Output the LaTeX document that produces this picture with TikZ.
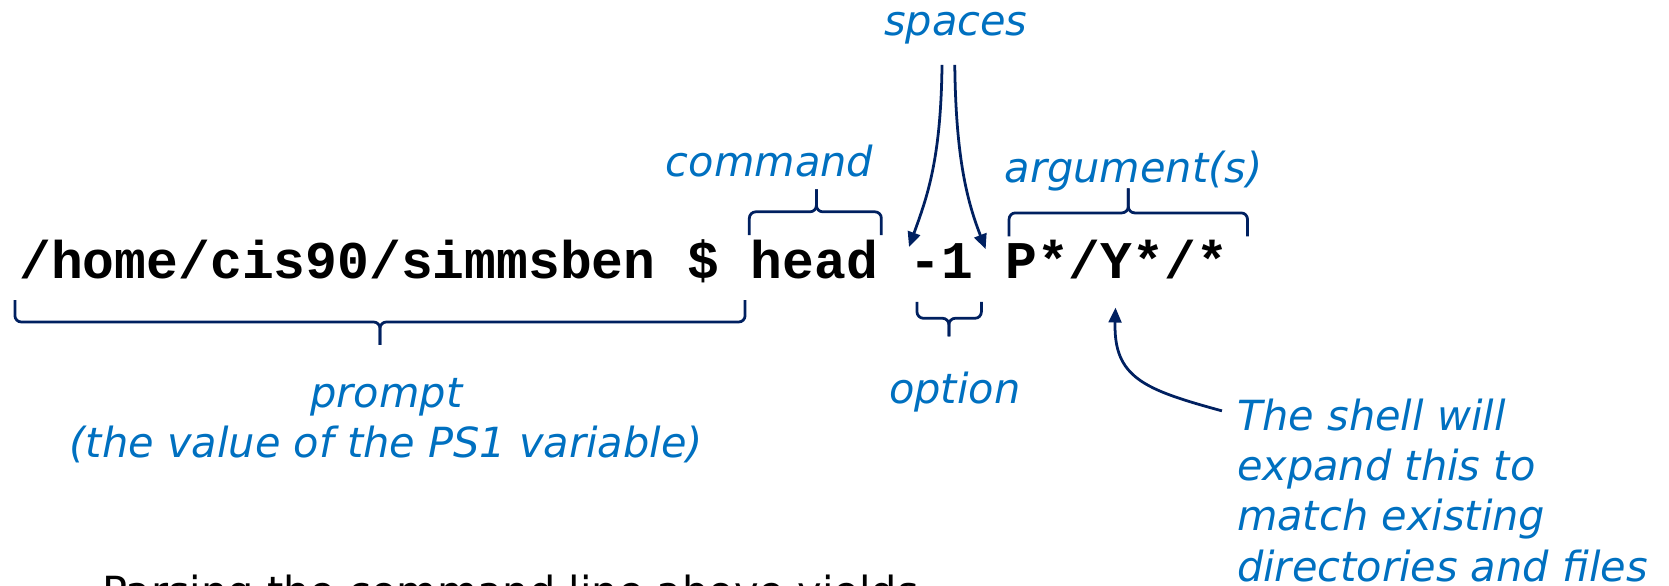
\documentclass[tikz,border=0pt]{standalone}
\usepackage{fontspec}
\setmainfont{DejaVu Sans}
\newfontfamily\cmdfont{Liberation Mono}
\usetikzlibrary{arrows.meta}
\definecolor{lblue}{HTML}{0070C0}
\definecolor{navy}{HTML}{002060}
\tikzset{
  lbl/.style={text=lblue, font=\fontsize{39}{47}\selectfont\itshape, inner sep=0pt},
  cmd/.style={font=\cmdfont\bfseries\fontsize{49.8}{60}\selectfont, inner sep=0pt, anchor=base west},
  brk/.style={draw=navy, line width=2.6pt, rounded corners=6pt},
  arr/.style={draw=navy, line width=2.6pt, -{Triangle[length=14pt,width=12pt]}},
}
\begin{document}
\begin{tikzpicture}[x=1pt,y=-1pt]
\useasboundingbox (0,0) rectangle (1568,550);
% command line
\node[cmd] (pr) at (18,262) {/home/cis90/simmsben \$};
\node[cmd] (hd) at (705.2,262) {head};
\node[cmd] (op) at (854.6,262) {-1};
\node[cmd] (ar) at (944.3,262) {P*/Y*/*};
% labels
\node[lbl, anchor=base] (sp) at (898,33) {spaces};
\node[lbl, anchor=base] (cm) at (723,166) {command};
\node[lbl, anchor=base] (ag) at (1065,171) {argument(s)};
\node[lbl, anchor=base] (on) at (897,379) {option};
\node[lbl, anchor=base, align=center] (pl) at (363,430) {prompt\\(the value of the PS1 variable)};
\node[lbl, anchor=north west, align=left] (sh) at (1162,375) {The shell will\\expand this to\\match existing\\directories and files};
\node[inner sep=0pt, anchor=base west, font=\fontsize{39}{47}\selectfont] (ps) at (96,570) {Parsing the command line above yields};
% brackets
\draw[brk] (14,282) -- (14,302.5) -- (357,302.5) -- (357,324);
\draw[brk] (700,282) -- (700,302.5) -- (357,302.5) -- (357,324);
\draw[brk] (704,221) -- (704,199) -- (767,199) -- (767,178);
\draw[brk] (828,221) -- (828,199) -- (767,199) -- (767,178);
\draw[brk] (948,222) -- (948,200) -- (1060,200) -- (1060,177);
\draw[brk] (1172,222) -- (1172,200) -- (1060,200) -- (1060,177);
\draw[brk] (861.5,283.5) -- (861.5,299) -- (891.5,299) -- (891.5,316);
\draw[brk] (922,283.5) -- (922,299) -- (891.5,299) -- (891.5,316);
% arrows
\coordinate (s1) at (885,61);
\coordinate (s2) at (897,61);
\coordinate (t1) at (854,232);
\coordinate (t2) at (926,234);
\coordinate (a0) at (1148,386);
\coordinate (a1) at (1048,289);
\draw[arr] (s1) .. controls (884,150) and (871,185) .. (t1);
\draw[arr] (s2) .. controls (898,150) and (909,190) .. (t2);
\draw[arr] (a0) .. controls (1075,366) and (1046,355) .. (a1);
\end{tikzpicture}
\end{document}
